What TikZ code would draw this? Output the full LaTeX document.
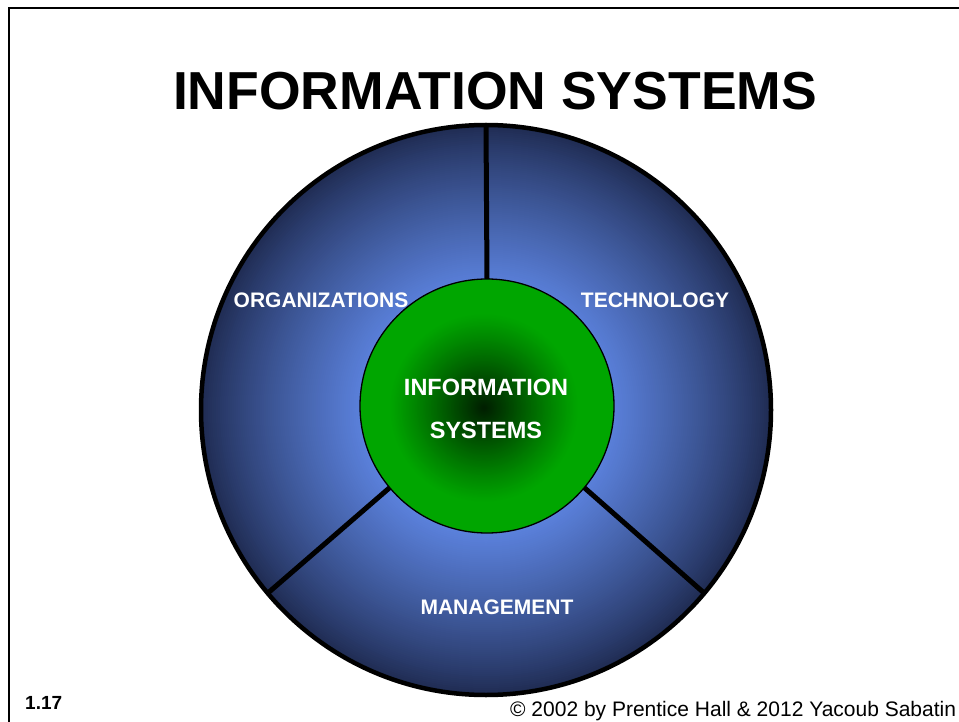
\documentclass[tikz,border=0pt]{standalone}
\usepackage{fontspec}
\setmainfont{Liberation Sans}
\definecolor{lb}{RGB}{90,128,218}
\definecolor{db}{RGB}{30,42,80}
\definecolor{gmain}{RGB}{0,166,0}
\definecolor{gdark}{RGB}{0,32,0}
\tikzset{
  lbl/.style={text=white, font=\bfseries\fontsize{21}{25}\selectfont, inner sep=0pt},
  lblc/.style={text=white, font=\bfseries\fontsize{23.5}{28}\selectfont, inner sep=0pt},
  divider/.style={line width=5pt, draw=black},
}
\begin{document}
\begin{tikzpicture}[x=1pt, y=-1pt]
\useasboundingbox (0,0) rectangle (959,722);
\fill[white] (0,0) rectangle (959,722);
% frame
\draw[line width=2.5pt] (9,740) -- (9,8) -- (970,8);
% title
\node[font=\bfseries\fontsize{53.5}{60}\selectfont, anchor=base, inner sep=0pt] (title) at (495,110) {INFORMATION SYSTEMS};
% ring gradient (outer 286 -> inner 127)
\foreach \i in {0,...,80}{
  \pgfmathsetmacro{\rr}{286-\i*1.99}
  \pgfmathsetmacro{\pc}{100*(\i/80)^0.85}
  \fill[lb!\pc!db] (486,410) circle[radius=\rr];
}
% outer circle
\node[circle, draw, line width=4.5pt, minimum size=570pt, inner sep=0pt, outer sep=0pt] (outer) at (486,410) {};
% inner circle reference
\node[circle, minimum size=254pt, inner sep=0pt, outer sep=0pt] (innerref) at (487,406) {};
% dividers
\draw[divider] (innerref.90) -- (outer.90);
\draw[divider] (innerref.220) -- (outer.220);
\draw[divider] (innerref.320) -- (outer.320);
% green gradient
\fill[gmain] (487,406) circle[radius=127];
\foreach \i in {0,...,60}{
  \pgfmathsetmacro{\rr}{95-\i*1.55}
  \pgfmathsetmacro{\pc}{100*(\i/60)^1.1}
  \fill[gdark!\pc!gmain] (484,408) circle[radius=\rr];
}
\node[circle, draw, line width=1.3pt, minimum size=254pt, inner sep=0pt, outer sep=0pt] (inner) at (487,406) {};
% labels
\node[lbl, anchor=base] (org) at (321,307) {ORGANIZATIONS};
\node[lbl, anchor=base] (tech) at (655,307) {TECHNOLOGY};
\node[lbl, anchor=base] (mgmt) at (497,614) {MANAGEMENT};
\node[lblc, anchor=base] (is1) at (486,395) {INFORMATION};
\node[lblc, anchor=base] (is2) at (486,438) {SYSTEMS};
% footer
\node[font=\bfseries\fontsize{19}{22}\selectfont, anchor=base west, inner sep=0pt] (num) at (25,709) {1.17};
\node[font=\fontsize{21}{24}\selectfont, anchor=base west, inner sep=0pt] (copy) at (510,716) {© 2002 by Prentice Hall \& 2012 Yacoub Sabatin};
\end{tikzpicture}
\end{document}
